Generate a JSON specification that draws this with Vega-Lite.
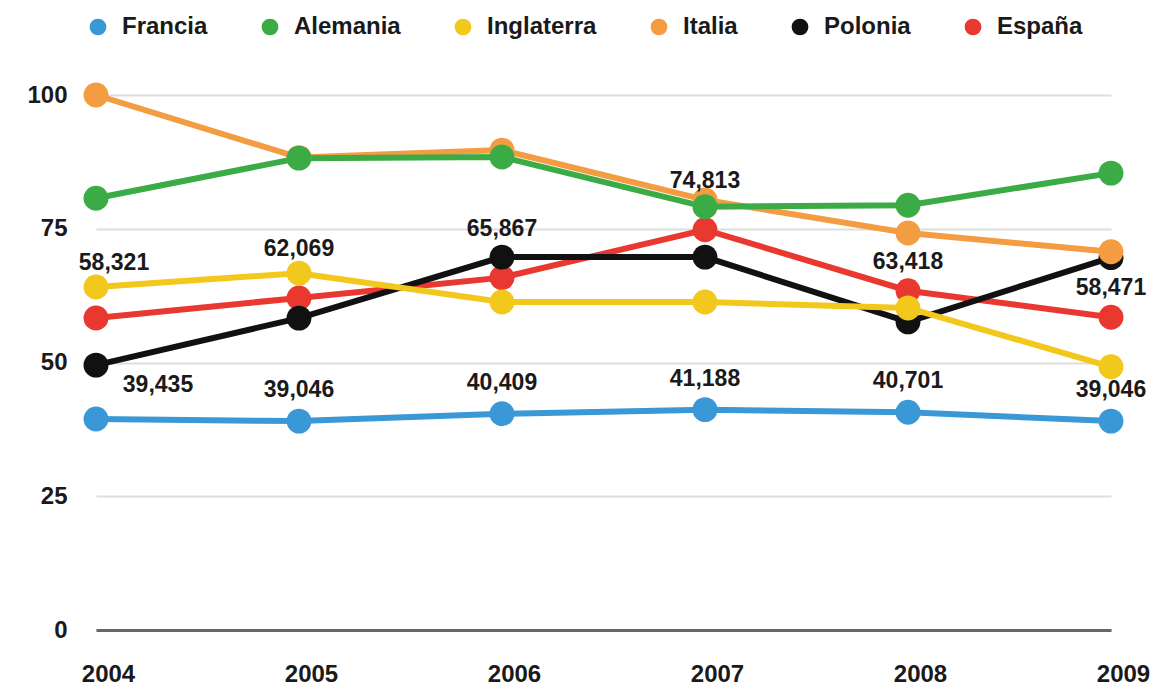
{
  "$schema": "https://vega.github.io/schema/vega-lite/v6.json",
  "autosize": "none",
  "width": 1015,
  "height": 535,
  "padding": {"left": 96, "top": 95, "right": 53, "bottom": 59},
  "background": "white",
  "config": {
    "locale": {"number": {"decimal": ",", "thousands": ".", "grouping": [3], "currency": ["", "€"]}},
    "font": "Liberation Sans",
    "view": {"stroke": null}
  },
  "data": {"values": [
    {"year": "2004", "country": "España", "value": 58.321},
    {"year": "2005", "country": "España", "value": 62.069},
    {"year": "2006", "country": "España", "value": 65.867},
    {"year": "2007", "country": "España", "value": 74.813},
    {"year": "2008", "country": "España", "value": 63.418},
    {"year": "2009", "country": "España", "value": 58.471},
    {"year": "2004", "country": "Polonia", "value": 49.5},
    {"year": "2005", "country": "Polonia", "value": 58.3},
    {"year": "2006", "country": "Polonia", "value": 69.7},
    {"year": "2007", "country": "Polonia", "value": 69.7},
    {"year": "2008", "country": "Polonia", "value": 57.6},
    {"year": "2009", "country": "Polonia", "value": 69.6},
    {"year": "2004", "country": "Inglaterra", "value": 64.1},
    {"year": "2005", "country": "Inglaterra", "value": 66.7},
    {"year": "2006", "country": "Inglaterra", "value": 61.3},
    {"year": "2007", "country": "Inglaterra", "value": 61.3},
    {"year": "2008", "country": "Inglaterra", "value": 60.2},
    {"year": "2009", "country": "Inglaterra", "value": 49.2},
    {"year": "2004", "country": "Italia", "value": 100},
    {"year": "2005", "country": "Italia", "value": 88.3},
    {"year": "2006", "country": "Italia", "value": 89.7},
    {"year": "2007", "country": "Italia", "value": 80.4},
    {"year": "2008", "country": "Italia", "value": 74.2},
    {"year": "2009", "country": "Italia", "value": 70.7},
    {"year": "2004", "country": "Alemania", "value": 80.7},
    {"year": "2005", "country": "Alemania", "value": 88.2},
    {"year": "2006", "country": "Alemania", "value": 88.4},
    {"year": "2007", "country": "Alemania", "value": 79.1},
    {"year": "2008", "country": "Alemania", "value": 79.4},
    {"year": "2009", "country": "Alemania", "value": 85.4},
    {"year": "2004", "country": "Francia", "value": 39.435},
    {"year": "2005", "country": "Francia", "value": 39.046},
    {"year": "2006", "country": "Francia", "value": 40.409},
    {"year": "2007", "country": "Francia", "value": 41.188},
    {"year": "2008", "country": "Francia", "value": 40.701},
    {"year": "2009", "country": "Francia", "value": 39.046}
  ]},
  "encoding": {
    "x": {
      "field": "year", "type": "ordinal",
      "scale": {"type": "point", "padding": 0},
      "axis": {
        "title": null, "labelAngle": 0, "ticks": false,
        "domainColor": "#666", "domainWidth": 3,
        "labelFontSize": 24, "labelFontWeight": "bold", "labelColor": "#1a1a1a",
        "labelPadding": 32, "labelOffset": 12, "grid": false
      }
    },
    "y": {
      "field": "value", "type": "quantitative",
      "scale": {"domain": [0, 100], "nice": false},
      "axis": {
        "title": null, "values": [0, 25, 50, 75, 100], "domain": false, "ticks": false,
        "labelFontSize": 24, "labelFontWeight": "bold", "labelColor": "#1a1a1a",
        "labelPadding": 29, "gridColor": "#dedede", "gridWidth": 2
      }
    },
    "color": {
      "field": "country", "type": "nominal",
      "scale": {
        "domain": ["Francia", "Alemania", "Inglaterra", "Italia", "Polonia", "España"],
        "range": ["#3a98d6", "#3aab45", "#f3c81c", "#f39c42", "#111111", "#e8382f"]
      },
      "legend": {
        "title": null, "orient": "none", "direction": "horizontal", "columns": 6,
        "legendX": -10, "legendY": -80, "padding": 0,
        "symbolType": "circle", "symbolSize": 280, "symbolStrokeWidth": 0,
        "labelFontSize": 24, "labelFontWeight": "bold", "labelColor": "#1a1a1a",
        "labelOffset": 12, "columnPadding": 50
      }
    }
  },
  "layer": [
    {"mark": {"type": "line", "strokeWidth": 6}},
    {"mark": {"type": "point", "filled": true, "opacity": 1, "size": 620}},
    {
      "transform": [{"filter": "datum.country == 'Francia' && datum.year == '2004'"}],
      "mark": {"type": "text", "dx": 62, "dy": -34, "fontSize": 23, "fontWeight": "bold"},
      "encoding": {"text": {"field": "value", "type": "quantitative", "format": ".3f"}, "color": {"value": "#1a1a1a"}}
    },
    {
      "transform": [{"filter": "datum.country == 'Francia' && datum.year != '2004'"}],
      "mark": {"type": "text", "dy": -31, "fontSize": 23, "fontWeight": "bold"},
      "encoding": {"text": {"field": "value", "type": "quantitative", "format": ".3f"}, "color": {"value": "#1a1a1a"}}
    },
    {
      "transform": [{"filter": "datum.country == 'España' && datum.year == '2004'"}],
      "mark": {"type": "text", "dx": 18, "dy": -55, "fontSize": 23, "fontWeight": "bold"},
      "encoding": {"text": {"field": "value", "type": "quantitative", "format": ".3f"}, "color": {"value": "#1a1a1a"}}
    },
    {
      "transform": [{"filter": "datum.country == 'España' && (datum.year == '2005' || datum.year == '2006' || datum.year == '2007')"}],
      "mark": {"type": "text", "dy": -49, "fontSize": 23, "fontWeight": "bold"},
      "encoding": {"text": {"field": "value", "type": "quantitative", "format": ".3f"}, "color": {"value": "#1a1a1a"}}
    },
    {
      "transform": [{"filter": "datum.country == 'España' && (datum.year == '2008' || datum.year == '2009')"}],
      "mark": {"type": "text", "dy": -29, "fontSize": 23, "fontWeight": "bold"},
      "encoding": {"text": {"field": "value", "type": "quantitative", "format": ".3f"}, "color": {"value": "#1a1a1a"}}
    }
  ]
}
